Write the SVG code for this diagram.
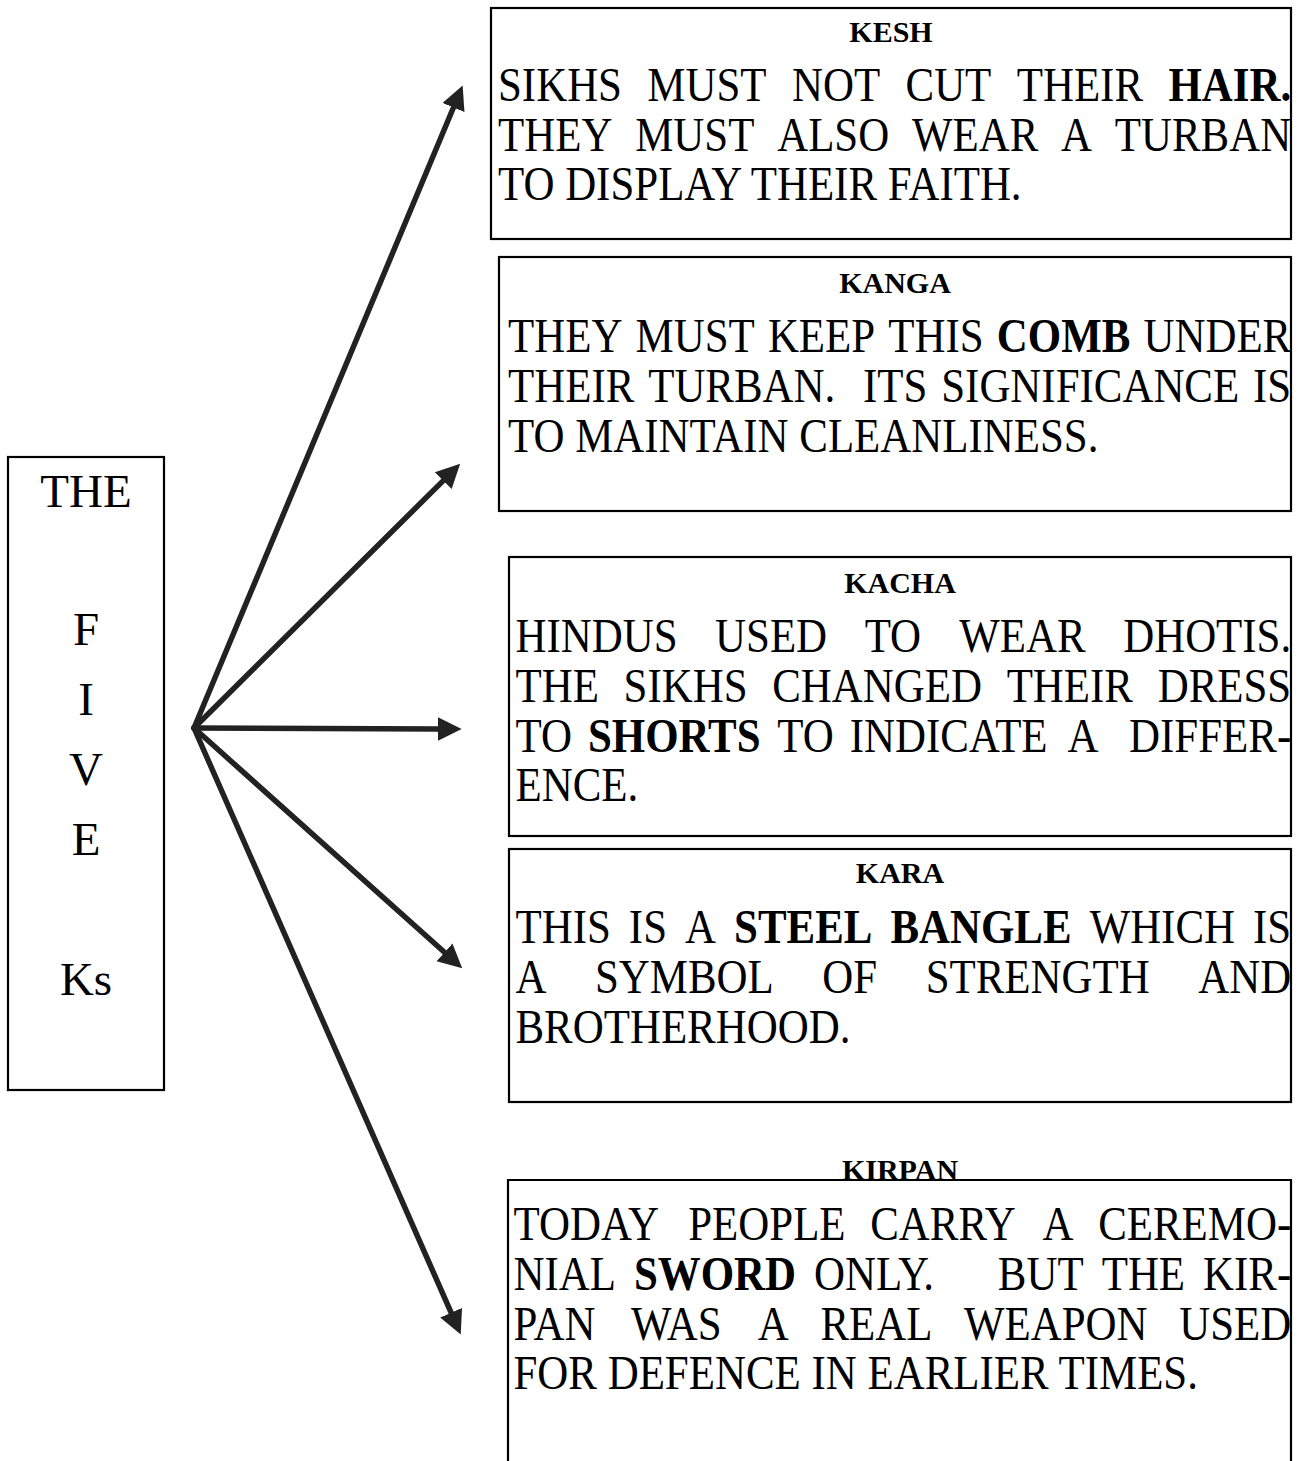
<svg xmlns="http://www.w3.org/2000/svg" width="1304" height="1461" viewBox="0 0 1304 1461">
<style>
.box{fill:#fff;stroke:#000;stroke-width:2.2}
.open{fill:none;stroke:#000;stroke-width:2.2}
.big{font-family:"Liberation Serif","Times New Roman",serif;font-size:47px;fill:#000;text-anchor:middle}
.ttl{font-family:"Liberation Serif","Times New Roman",serif;font-size:30px;font-weight:bold;fill:#000;text-anchor:middle}
.body{font-family:"Liberation Serif","Times New Roman",serif;font-size:48px;fill:#000}
.b{font-weight:bold}
.arr{fill:none;stroke:#222;stroke-width:5.5;stroke-linecap:round;marker-end:url(#ah)}
</style>
<defs>
<marker id="ah" markerUnits="userSpaceOnUse" markerWidth="26" markerHeight="26" viewBox="0 0 24 24" refX="2" refY="12" orient="auto">
<path d="M0,1 L22,12 L0,23 z" fill="#222"/>
</marker>
</defs>
<rect width="1304" height="1461" fill="#fff"/>

<g id="connectors">
<path class="arr" d="M194,728 L454.3,105.5"/>
<path class="arr" d="M194,728 L444.8,479.1"/>
<path class="arr" d="M194,728 L440,729"/>
<path class="arr" d="M194,728 L446.1,953.7"/>
<path class="arr" d="M194,728 L452,1314.7"/>
</g>

<g id="five-ks">
<rect class="box" x="8" y="457" width="156" height="633"/>
<text class="big" x="86" y="507">THE</text>
<text class="big" x="86" y="645">F</text>
<text class="big" x="86" y="715">I</text>
<text class="big" x="86" y="785">V</text>
<text class="big" x="86" y="855">E</text>
<text class="big" x="86" y="995">Ks</text>
</g>

<g id="kesh">
<rect class="box" x="491" y="8" width="800" height="231"/>
<text class="ttl" x="891" y="42">KESH</text>
<text class="body" transform="translate(498 101) scale(0.894 1)"><tspan x="0">SIKHS</tspan><tspan x="167.07">MUST</tspan><tspan x="328.81">NOT</tspan><tspan x="455.85">CUT</tspan><tspan x="580.24">THEIR</tspan><tspan class="b" x="749.95">HAIR.</tspan></text>
<text class="body" transform="translate(498 151) scale(0.894 1)"><tspan x="0">THEY</tspan><tspan x="153.44">MUST</tspan><tspan x="312.25">ALSO</tspan><tspan x="463.05">WEAR</tspan><tspan x="629.83">A</tspan><tspan x="689.95">TURBAN</tspan></text>
<text class="body" transform="translate(498 200) scale(0.894 1)" x="0">TO DISPLAY THEIR FAITH.</text>
</g>

<g id="kanga">
<rect class="box" x="499" y="257" width="792" height="254"/>
<text class="ttl" x="895" y="293">KANGA</text>
<text class="body" transform="translate(508 352) scale(0.894 1)"><tspan x="0">THEY</tspan><tspan x="142.67">MUST</tspan><tspan x="290.71">KEEP</tspan><tspan x="425.40">THIS</tspan><tspan class="b" x="546.76">COMB</tspan><tspan x="710.78">UNDER</tspan></text>
<text class="body" transform="translate(508 402) scale(0.894 1)"><tspan x="0">THEIR</tspan><tspan x="156.81">TURBAN.</tspan><tspan x="397.12">ITS</tspan><tspan x="484.62">SIGNIFICANCE</tspan><tspan x="833.42">IS</tspan></text>
<text class="body" transform="translate(508 452) scale(0.894 1)" x="0">TO MAINTAIN CLEANLINESS.</text>
</g>

<g id="kacha">
<rect class="box" x="509" y="557" width="782" height="279"/>
<text class="ttl" x="900" y="593">KACHA</text>
<text class="body" transform="translate(515.5 652) scale(0.894 1)"><tspan x="0">HINDUS</tspan><tspan x="223.25">USED</tspan><tspan x="390.53">TO</tspan><tspan x="496.46">WEAR</tspan><tspan x="679.73">DHOTIS.</tspan></text>
<text class="body" transform="translate(515.5 702) scale(0.894 1)"><tspan x="0">THE</tspan><tspan x="120.91">SIKHS</tspan><tspan x="287.18">CHANGED</tspan><tspan x="549.41">THEIR</tspan><tspan x="718.32">DRESS</tspan></text>
<text class="body" transform="translate(515.5 752) scale(0.894 1)"><tspan x="0">TO</tspan><tspan class="b" x="81.05">SHORTS</tspan><tspan x="292.85">TO</tspan><tspan x="373.90">INDICATE</tspan><tspan x="617.57">A</tspan><tspan x="686.35">DIFFER-</tspan></text>
<text class="body" transform="translate(515.5 801) scale(0.894 1)" x="0">ENCE.</text>
</g>

<g id="kara">
<rect class="box" x="509" y="849" width="782" height="253"/>
<text class="ttl" x="900" y="883">KARA</text>
<text class="body" transform="translate(515.5 943) scale(0.894 1)"><tspan x="0">THIS</tspan><tspan x="126.82">IS</tspan><tspan x="189.65">A</tspan><tspan class="b" x="244.46">STEEL</tspan><tspan class="b" x="419.38">BANGLE</tspan><tspan x="642.24">WHICH</tspan><tspan x="825.02">IS</tspan></text>
<text class="body" transform="translate(515.5 993) scale(0.894 1)"><tspan x="0">A</tspan><tspan x="88.92">SYMBOL</tspan><tspan x="343.2">OF</tspan><tspan x="458.81">STRENGTH</tspan><tspan x="763.73">AND</tspan></text>
<text class="body" transform="translate(515.5 1043) scale(0.894 1)" x="0">BROTHERHOOD.</text>
</g>

<g id="kirpan">
<path class="open" d="M508,1462 V1180 H1291 V1462"/>
<text class="ttl" x="900" y="1180">KIRPAN</text>
<text class="body" transform="translate(513.5 1240) scale(0.894 1)"><tspan x="0">TODAY</tspan><tspan x="195.45">PEOPLE</tspan><tspan x="398.96">CARRY</tspan><tspan x="591.81">A</tspan><tspan x="653.96">CEREMO-</tspan></text>
<text class="body" transform="translate(513.5 1290) scale(0.894 1)"><tspan x="0">NIAL</tspan><tspan class="b" x="134.73">SWORD</tspan><tspan x="336.18">ONLY.</tspan><tspan x="541.8">BUT</tspan><tspan x="657.91">THE</tspan><tspan x="771.33">KIR-</tspan></text>
<text class="body" transform="translate(513.5 1340) scale(0.894 1)"><tspan x="0">PAN</tspan><tspan x="131.34">WAS</tspan><tspan x="273.33">A</tspan><tspan x="343.32">REAL</tspan><tspan x="503.99">WEAPON</tspan><tspan x="744.62">USED</tspan></text>
<text class="body" transform="translate(513.5 1389) scale(0.894 1)" x="0">FOR DEFENCE IN EARLIER TIMES.</text>
</g>
</svg>
